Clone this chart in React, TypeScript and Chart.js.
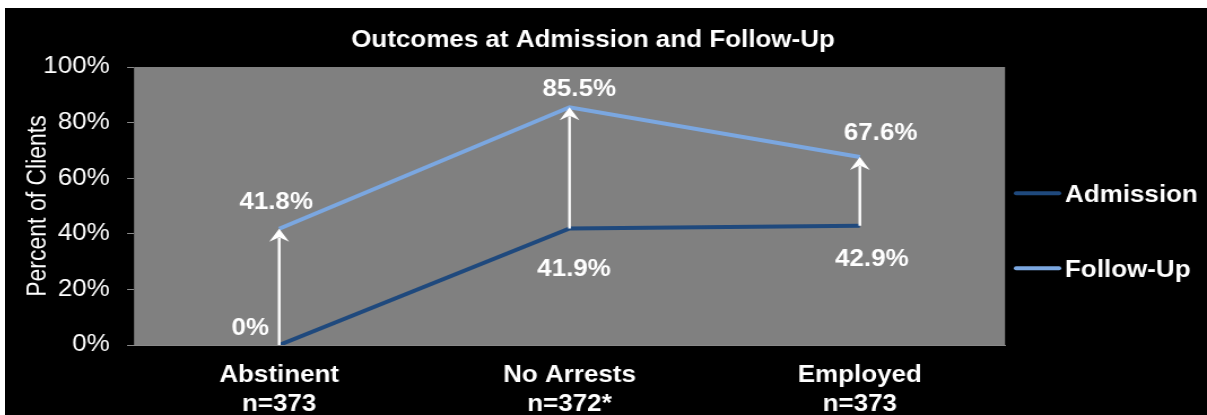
import { useEffect, useRef } from 'react';
import { Chart, registerables } from 'chart.js';

Chart.register(...registerables);

// ---- data ----
const categories: string[][] = [
  ['Abstinent', 'n=373'],
  ['No Arrests', 'n=372*'],
  ['Employed', 'n=373'],
];
const admission: number[] = [0, 41.9, 42.9];
const followUp: number[] = [41.8, 85.5, 67.6];
const seriesNames: string[] = ['Admission', 'Follow-Up'];
const chartTitle = 'Outcomes at Admission and Follow-Up';
const yAxisTitle = 'Percent of Clients';
const yMin = 0;
const yMax = 100;
const yStep = 20;

// ---- style ----
const FONT = '"Liberation Sans", Arial, Helvetica, sans-serif';
const COLORS = ['#1F497D', '#7BA7E0'];
const CANVAS_W = 1064;
const CANVAS_H = 407;
const STRETCH = 1202 / 1064;
// label offsets (dx, dy of cap-centre relative to point), per series, per category
const labelOffsets: number[][][] = [
  [[-25.7, -18.5], [4, 39], [10.6, 32]],
  [[-2.7, -28], [8.6, -19.5], [18.4, -25]],
];

const fmt = (v: number) => (v === 0 ? '0%' : v.toFixed(1) + '%');

const decoPlugin = {
  id: 'deco',
  beforeDraw(chart: any) {
    const { ctx, chartArea: a, width, height } = chart;
    ctx.save();
    ctx.fillStyle = '#000000';
    ctx.fillRect(0, 0, width, height);
    ctx.fillStyle = '#808080';
    ctx.fillRect(a.left, a.top, a.right - a.left, a.bottom - a.top);

    // title
    ctx.fillStyle = '#ffffff';
    ctx.font = `bold 23px ${FONT}`;
    ctx.textAlign = 'center';
    ctx.textBaseline = 'alphabetic';
    ctx.fillText(chartTitle, 520.5, 30.3 + 8.2);

    // legend
    const legendY = [185.3, 260.3];
    seriesNames.forEach((name, i) => {
      ctx.strokeStyle = COLORS[i];
      ctx.lineWidth = 4;
      ctx.lineCap = 'round';
      ctx.beginPath();
      ctx.moveTo(895, legendY[i]);
      ctx.lineTo(933, legendY[i]);
      ctx.stroke();
      ctx.fillStyle = '#ffffff';
      ctx.textAlign = 'left';
      ctx.fillText(name, 938.3, legendY[i] + 8.2);
    });
    ctx.restore();
  },
  afterDatasetsDraw(chart: any) {
    const { ctx } = chart;
    const m0 = chart.getDatasetMeta(0).data;
    const m1 = chart.getDatasetMeta(1).data;
    ctx.save();
    // arrows
    ctx.strokeStyle = '#ffffff';
    ctx.fillStyle = '#ffffff';
    ctx.lineWidth = 2.4;
    for (let i = 0; i < m0.length; i++) {
      const x = m0[i].x;
      const y0 = m0[i].y;
      const y1 = m1[i].y;
      ctx.beginPath();
      ctx.moveTo(x, y0);
      ctx.lineTo(x, y1 + 9);
      ctx.stroke();
      ctx.beginPath();
      ctx.moveTo(x, y1);
      ctx.lineTo(x - 8.8, y1 + 13);
      ctx.lineTo(x, y1 + 8.5);
      ctx.lineTo(x + 8.8, y1 + 13);
      ctx.closePath();
      ctx.fill();
    }
    // data labels
    ctx.font = `bold 23px ${FONT}`;
    ctx.textAlign = 'center';
    ctx.textBaseline = 'alphabetic';
    const series = [admission, followUp];
    [m0, m1].forEach((meta: any[], s: number) => {
      meta.forEach((p: any, i: number) => {
        const [dx, dy] = labelOffsets[s][i];
        ctx.fillText(fmt(series[s][i]), p.x + dx, p.y + dy + 8.2);
      });
    });
    ctx.restore();
  },
};

export default function App() {
  const ref = useRef<HTMLCanvasElement | null>(null);

  useEffect(() => {
    if (!ref.current) return;
    const chart = new Chart(ref.current, {
      type: 'line',
      data: {
        labels: categories,
        datasets: [
          {
            label: seriesNames[0],
            data: admission,
            borderColor: COLORS[0],
            backgroundColor: COLORS[0],
            borderWidth: 4,
            pointRadius: 0,
            tension: 0,
          },
          {
            label: seriesNames[1],
            data: followUp,
            borderColor: COLORS[1],
            backgroundColor: COLORS[1],
            borderWidth: 4,
            pointRadius: 0,
            tension: 0,
          },
        ],
      },
      options: {
        responsive: false,
        animation: false,
        devicePixelRatio: 1,
        layout: { padding: { top: 59, right: CANVAS_W - 885.2, bottom: 0, left: 0 } },
        plugins: {
          legend: { display: false },
          title: { display: false },
          tooltip: { enabled: false },
        },
        scales: {
          x: {
            offset: true,
            grid: { display: false, drawTicks: false },
            border: { display: true, color: '#8a8a8a', width: 1 },
            ticks: {
              color: '#ffffff',
              font: { family: FONT, size: 23, weight: 'bold', lineHeight: 1.3 },
              padding: 15.3,
              maxRotation: 0,
              autoSkip: false,
            },
            afterFit: (scale: any) => {
              scale.height = 70;
            },
          },
          y: {
            min: yMin,
            max: yMax,
            grid: {
              display: true,
              drawOnChartArea: false,
              drawTicks: true,
              tickLength: 6.2,
              color: '#8a8a8a',
            },
            border: { display: false },
            ticks: {
              stepSize: yStep,
              color: '#ffffff',
              font: { family: FONT, size: 23 },
              padding: 15.3,
              callback: (v: any) => v + '%',
            },
            title: {
              display: true,
              text: yAxisTitle,
              color: '#ffffff',
              font: { family: FONT, size: 23 },
              padding: { top: 15.4, bottom: 0 },
            },
            afterFit: (scale: any) => {
              scale.width = 114.2;
            },
          },
        },
      } as any,
      plugins: [decoPlugin],
    });
    return () => chart.destroy();
  }, []);

  return (
    <div
      style={{
        position: 'fixed',
        left: 5,
        top: 8,
        right: 0,
        bottom: 0,
        overflow: 'hidden',
        background: '#000',
      }}
    >
      <canvas
        ref={ref}
        width={CANVAS_W}
        height={CANVAS_H}
        style={{
          width: CANVAS_W + 'px',
          height: CANVAS_H + 'px',
          transform: `scaleX(${STRETCH})`,
          transformOrigin: '0 0',
        }}
      />
    </div>
  );
}
